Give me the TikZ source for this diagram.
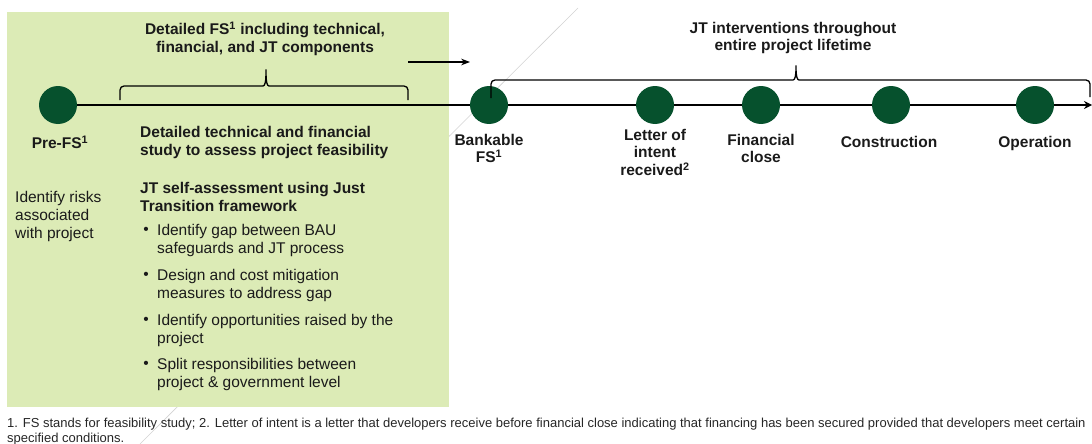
\documentclass[tikz,border=0pt]{standalone}
\usepackage{fontspec}
\setmainfont{Liberation Sans}
\usepackage{xcolor}
\definecolor{PaleGreen}{HTML}{DCEBB6}
\definecolor{DeepGreen}{HTML}{06512D}
\definecolor{InkGray}{HTML}{1A1A1A}
\definecolor{NoteGray}{HTML}{262626}
\usetikzlibrary{arrows.meta, positioning}

\begin{document}
\begin{tikzpicture}[x=1pt, y=-1pt, >=Stealth, text=InkGray,
  font=\fontsize{15.5}{18}\selectfont,
  milestone/.style={circle, fill=DeepGreen, minimum size=38pt, inner sep=0pt},
  stage/.style={font=\fontsize{15.5}{17.5}\selectfont\bfseries, align=center, anchor=north, inner sep=0pt},
  heading/.style={font=\fontsize{15.5}{18.5}\selectfont\bfseries, align=left, anchor=north west, inner sep=0pt},
  note/.style={align=left, anchor=north west, inner sep=0pt},
  bulletpt/.style={note, label={[inner sep=0pt, anchor=north east, xshift=-8pt, yshift=-3pt]north west:\textbullet}},
  bracket/.style={line width=1.3pt, rounded corners=4pt}]
  \useasboundingbox (0,0) rectangle (1092,444);

  % Faint guide line and phase box
  \draw[gray!35, line width=0.6pt] (578,8) -- (140,444);
  \fill[PaleGreen] (7,12) rectangle (449,407);

  % Timeline
  \coordinate (t0) at (58,105);
  \coordinate (t1) at (489,105);
  \coordinate (t2) at (655,105);
  \coordinate (t3) at (761,105);
  \coordinate (t4) at (891,105);
  \coordinate (t5) at (1035,105);
  \coordinate (tend) at (1092,105);
  \draw[line width=2.6pt, -{Stealth[length=8pt, width=8pt]}] (t0) -- (tend);

  % Milestones
  \node[milestone] (prefs) at (t0) {};
  \node[milestone] (bankable) at (t1) {};
  \node[milestone] (letter) at (t2) {};
  \node[milestone] (close) at (t3) {};
  \node[milestone] (build) at (t4) {};
  \node[milestone] (operate) at (t5) {};

  \node[stage] (prefslbl) at (60,136) {Pre-FS\textsuperscript{1}};
  \node[stage] (bankablelbl) at (489,134) {Bankable\\FS\textsuperscript{1}};
  \node[stage] (letterlbl) at (655,129) {Letter of\\intent\\received\textsuperscript{2}};
  \node[stage] (closelbl) at (761,134) {Financial\\close};
  \node[stage] (buildlbl) at (889,136) {Construction};
  \node[stage] (operatelbl) at (1035,136) {Operation};

  % Brackets
  \draw[bracket] (120,100) -- (120,86) -- (259,86)
    .. controls (265,86) and (266,82) .. (266,67)
    .. controls (266,82) and (267,86) .. (273,86) -- (408,86) -- (408,100);
  \draw[bracket] (491,98) -- (491,80) -- (789,80)
    .. controls (795,80) and (796,76) .. (796,63)
    .. controls (796,76) and (797,80) .. (803,80) -- (1090,80) -- (1090,97);
  \node[stage] (fslbl) at (265,22) {Detailed FS\textsuperscript{1} including technical,\\financial, and JT components};
  \node[stage] (jtlbl) at (793,22) {JT interventions throughout\\entire project lifetime};

  \coordinate (arrowtail) at (408,62);
  \coordinate (arrowhead) at (470,62);
  \draw[->, line width=1.3pt] (arrowtail) -- (arrowhead);

  % Phase text
  \node[note] (risks) at (15,191) {Identify risks\\associated\\with project};
  \node[heading] (study) at (140,126) {Detailed technical and financial\\study to assess project feasibility};
  \node[heading] (selfcheck) at (140,182) {JT self-assessment using Just\\Transition framework};
  \node[bulletpt] (gap) at (157,224) {Identify gap between BAU\\safeguards and JT process};
  \node[bulletpt, below=12pt of gap.south west, anchor=north west] (cost) {Design and cost mitigation\\measures to address gap};
  \node[bulletpt, below=12pt of cost.south west, anchor=north west] (chances) {Identify opportunities raised by the\\project};
  \node[bulletpt, below=12pt of chances.south west, anchor=north west] (split) {Split responsibilities between\\project \& government level};

  % Footnote
  \node[note, text=NoteGray, font=\fontsize{13}{14.5}\selectfont] (footnote) at (7,418)
    {1. FS stands for feasibility study; 2. Letter of intent is a letter that developers receive before financial close indicating that financing has been secured provided that developers meet certain\\specified conditions.};
\end{tikzpicture}
\end{document}
